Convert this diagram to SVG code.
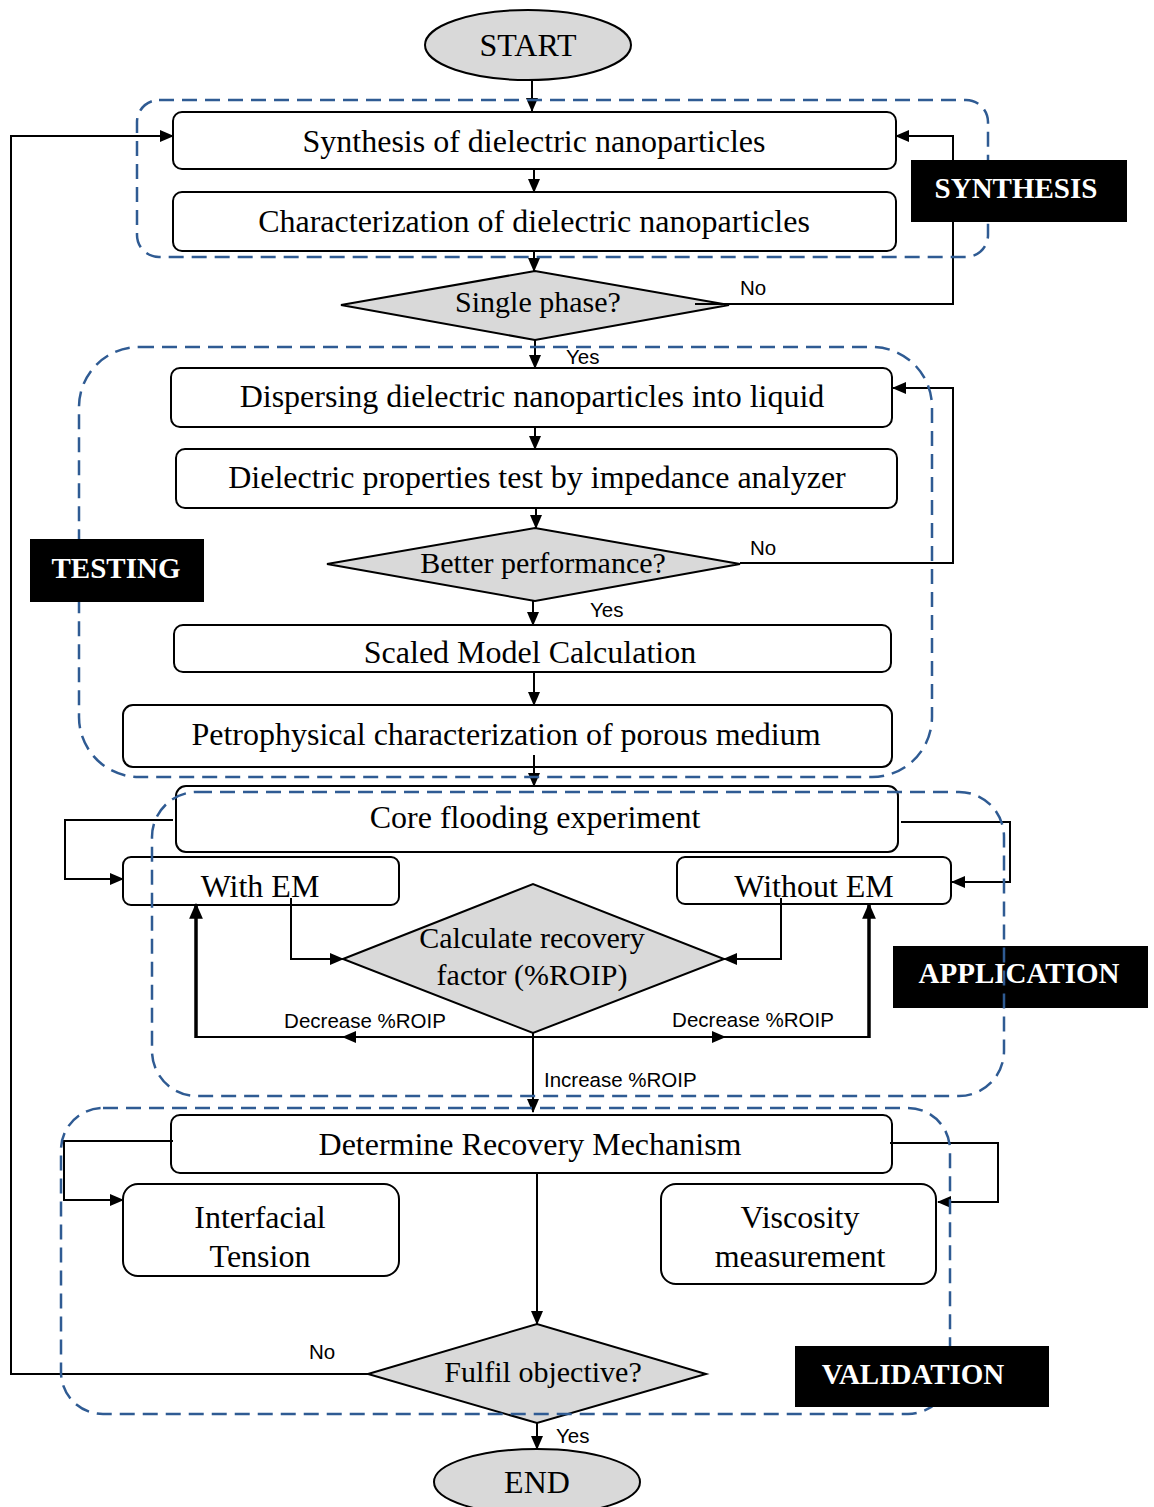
<svg xmlns="http://www.w3.org/2000/svg" width="1154" height="1507" viewBox="0 0 1154 1507">
<defs>
<marker id="ah" viewBox="0 0 14 12" refX="13" refY="6" markerWidth="14" markerHeight="12" markerUnits="userSpaceOnUse" orient="auto"><path d="M0,0 L14,6 L0,12 z" fill="#000"/></marker>
<marker id="ahb" viewBox="0 0 14 12" refX="13" refY="6" markerWidth="16" markerHeight="14" markerUnits="userSpaceOnUse" orient="auto"><path d="M0,0 L14,6 L0,12 z" fill="#000"/></marker>
<style>
.box{fill:#fff;stroke:#000;stroke-width:2}
.dia{fill:#d9d9d9;stroke:#000;stroke-width:2}
.frame{fill:none;stroke:#2f5b93;stroke-width:2.5;stroke-dasharray:15 8}
.t{font-family:"Liberation Serif","Times New Roman",serif;font-size:32px;fill:#000;text-anchor:middle}
.td{font-family:"Liberation Serif","Times New Roman",serif;font-size:30px;fill:#000;text-anchor:middle}
.s{font-family:"Liberation Sans",Arial,sans-serif;font-size:20.5px;fill:#000}
.lab{fill:#000}
.lt{font-family:"Liberation Serif","Times New Roman",serif;font-size:29px;font-weight:bold;fill:#fff;text-anchor:middle}
.c{fill:none;stroke:#000;stroke-width:2;marker-end:url(#ah)}
.cn{fill:none;stroke:#000;stroke-width:2}
.ck{fill:none;stroke:#000;stroke-width:3.5;marker-end:url(#ahb)}
</style>
</defs>

<g id="start"><ellipse cx="528" cy="45" rx="103" ry="35" class="dia"/><text class="t" x="528" y="56">START</text></g>

<g id="n-synthesis"><rect class="box" x="173" y="112" width="723" height="57" rx="9"/><text class="t" x="534" y="152">Synthesis of dielectric nanoparticles</text></g>
<g id="n-characterization"><rect class="box" x="173" y="192" width="723" height="59" rx="9"/><text class="t" x="534" y="232">Characterization of dielectric nanoparticles</text></g>
<g id="d-single"><polygon class="dia" points="341,305 535,271 729,305 535,340"/><text class="td" x="538" y="312">Single phase?</text></g>

<g id="n-dispersing"><rect class="box" x="171" y="368" width="721" height="59" rx="9"/><text class="t" x="532" y="407">Dispersing dielectric nanoparticles into liquid</text></g>
<g id="n-dielectric"><rect class="box" x="176" y="449" width="721" height="59" rx="9"/><text class="t" x="537" y="488">Dielectric properties test by impedance analyzer</text></g>
<g id="d-better"><polygon class="dia" points="327,564 535,528 740,564 535,601"/><text class="td" x="543" y="573">Better performance?</text></g>
<g id="n-scaled"><rect class="box" x="174" y="625" width="717" height="47" rx="9"/><text class="t" x="530" y="663">Scaled Model Calculation</text></g>
<g id="n-petro"><rect class="box" x="123" y="705" width="769" height="62" rx="10"/><text class="t" x="506" y="745">Petrophysical characterization of porous medium</text></g>

<g id="n-core"><rect class="box" x="176" y="786" width="722" height="66" rx="10"/><text class="t" x="535" y="828">Core flooding experiment</text></g>
<g id="n-with"><rect class="box" x="123" y="857" width="276" height="48" rx="8"/><text class="t" x="260" y="897">With EM</text></g>
<g id="n-without"><rect class="box" x="677" y="857" width="274" height="47" rx="8"/><text class="t" x="814" y="897">Without EM</text></g>
<g id="d-calc"><polygon class="dia" points="343,959 533,884 724,959 533,1033"/><text class="td" x="532" y="948">Calculate recovery</text><text class="td" x="532" y="985">factor (%ROIP)</text></g>

<g id="n-determine"><rect class="box" x="171" y="1115" width="721" height="58" rx="9"/><text class="t" x="530" y="1155">Determine Recovery Mechanism</text></g>
<g id="n-ift"><rect class="box" x="123" y="1184" width="276" height="92" rx="15"/><text class="t" x="260" y="1228">Interfacial</text><text class="t" x="260" y="1267">Tension</text></g>
<g id="n-visc"><rect class="box" x="661" y="1184" width="275" height="100" rx="15"/><text class="t" x="800" y="1228">Viscosity</text><text class="t" x="800" y="1267">measurement</text></g>
<g id="d-fulfil"><polygon class="dia" points="368,1374 537,1324 706,1374 537,1423"/><text class="td" x="543" y="1382">Fulfil objective?</text></g>

<g id="end"><ellipse cx="537" cy="1482" rx="103" ry="33" class="dia"/><text class="t" x="537" y="1493">END</text></g>

<g id="connectors">
<path class="c" d="M532,80 L532,111"/>
<path class="c" d="M534,169 L534,192"/>
<path class="c" d="M534,251 L534,271"/>
<path class="c" d="M695,304 L953,304 L953,136 L896,136"/>
<path class="c" d="M535,340 L535,368"/>
<path class="c" d="M535,427 L535,449"/>
<path class="c" d="M536,508 L536,528"/>
<path class="c" d="M740,563 L953,563 L953,388 L893,388"/>
<path class="c" d="M533,601 L533,625"/>
<path class="c" d="M534,672 L534,705"/>
<path class="c" d="M534,755 L534,786"/>
<path class="c" d="M173,820 L65,820 L65,879 L123,879"/>
<path class="c" d="M901,822 L1010,822 L1010,882 L952,882"/>
<path class="c" d="M291,898 L291,959 L343,959"/>
<path class="c" d="M781,898 L781,959 L724,959"/>
<path class="cn" d="M533,1037 L196,1037"/>
<path class="ck" d="M196,1038 L196,904"/>
<path class="c" d="M400,1037 L343,1037"/>
<path class="cn" d="M533,1037 L870,1037"/>
<path class="ck" d="M869,1038 L869,904"/>
<path class="c" d="M672,1037 L725,1037"/>
<path class="c" d="M533,1033 L533,1112"/>
<path class="c" d="M173,1141 L64,1141 L64,1200 L123,1200"/>
<path class="c" d="M890,1143 L998,1143 L998,1202 L938,1202"/>
<path class="c" d="M537,1173 L537,1324"/>
<path class="c" d="M368,1374 L11,1374 L11,136 L173,136"/>
<path class="c" d="M537,1423 L537,1449"/>
</g>

<g id="edge-labels">
<text class="s" x="740" y="295">No</text>
<text class="s" x="566" y="364">Yes</text>
<text class="s" x="750" y="555">No</text>
<text class="s" x="590" y="617">Yes</text>
<text class="s" x="365" y="1028" text-anchor="middle">Decrease %ROIP</text>
<text class="s" x="753" y="1027" text-anchor="middle">Decrease %ROIP</text>
<text class="s" x="544" y="1087">Increase %ROIP</text>
<text class="s" x="322" y="1359" text-anchor="middle">No</text>
<text class="s" x="556" y="1443">Yes</text>
</g>

<g id="frames">
<rect class="frame" x="137" y="100" width="851" height="157" rx="22"/>
<rect class="frame" x="79" y="347" width="853" height="430" rx="60"/>
<rect class="frame" x="61" y="1108" width="889" height="306" rx="42"/>
</g>

<g id="label-synthesis"><rect class="lab" x="911" y="160" width="216" height="62"/><text class="lt" x="1016" y="198">SYNTHESIS</text></g>
<g id="label-testing"><rect class="lab" x="30" y="539" width="174" height="63"/><text class="lt" x="116" y="578">TESTING</text></g>
<g id="label-application"><rect class="lab" x="893" y="946" width="255" height="62"/><text class="lt" x="1019" y="983">APPLICATION</text></g>
<g id="label-validation"><rect class="lab" x="795" y="1346" width="254" height="61"/><text class="lt" x="913" y="1384">VALIDATION</text></g>

<g id="frame-application"><rect class="frame" x="152" y="792" width="852" height="304" rx="45"/></g>
</svg>
